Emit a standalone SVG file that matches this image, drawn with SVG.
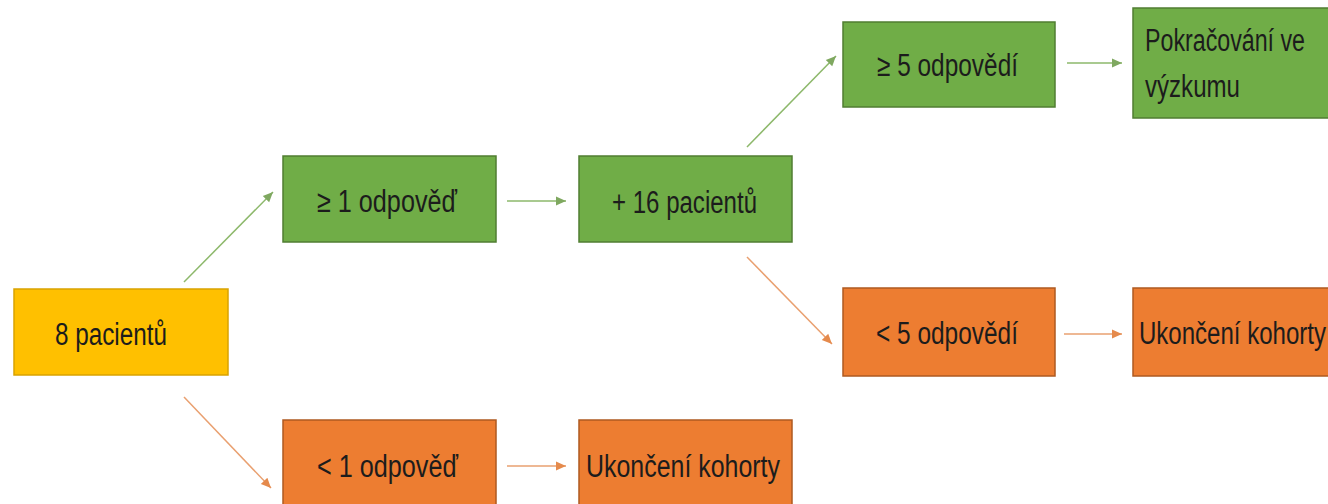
<svg xmlns="http://www.w3.org/2000/svg" width="1328" height="504" viewBox="0 0 1328 504">
<style>
.box{stroke-width:1.5}
.y{fill:#FFC000;stroke:#D9A300}
.g{fill:#70AD47;stroke:#507E32}
.o{fill:#ED7D31;stroke:#AE5A21}
.t{font-family:"Liberation Sans",Arial,sans-serif;font-size:31px;fill:#1c1c1c}
.cg{stroke:#8DB86B;stroke-width:1.5;fill:none;marker-end:url(#ag)}
.co{stroke:#E9A070;stroke-width:1.5;fill:none;marker-end:url(#ao)}
</style>
<defs>
<marker id="ag" markerUnits="userSpaceOnUse" markerWidth="11" markerHeight="11" refX="10" refY="5.5" orient="auto"><path d="M0,1 L10,5.5 L0,10 Z" fill="#7FA860"/></marker>
<marker id="ao" markerUnits="userSpaceOnUse" markerWidth="11" markerHeight="11" refX="10" refY="5.5" orient="auto"><path d="M0,1 L10,5.5 L0,10 Z" fill="#E58A4C"/></marker>
</defs>
<rect width="1328" height="504" fill="#ffffff"/>
<g id="connectors">
<line class="cg" x1="184" y1="282" x2="273" y2="192"/>
<line class="co" x1="184" y1="397" x2="271" y2="488"/>
<line class="cg" x1="507" y1="201" x2="566" y2="201"/>
<line class="co" x1="507" y1="466" x2="566" y2="466"/>
<line class="cg" x1="747" y1="147" x2="836" y2="56"/>
<line class="co" x1="747" y1="257" x2="832" y2="344"/>
<line class="cg" x1="1067" y1="63" x2="1122" y2="63"/>
<line class="co" x1="1064" y1="334" x2="1122" y2="334"/>
</g>
<g id="n8">
<rect class="box y" x="14" y="289" width="214" height="86"/>
<text class="t" x="55" y="345" textLength="112" lengthAdjust="spacingAndGlyphs">8 pacientů</text>
</g>
<g id="n1yes">
<rect class="box g" x="283" y="156" width="213" height="86"/>
<text class="t" x="317" y="212" textLength="140" lengthAdjust="spacingAndGlyphs">≥ 1 odpověď</text>
</g>
<g id="n16">
<rect class="box g" x="579" y="156" width="213" height="86"/>
<text class="t" x="612" y="213" textLength="145" lengthAdjust="spacingAndGlyphs">+ 16 pacientů</text>
</g>
<g id="n5yes">
<rect class="box g" x="843" y="22" width="212" height="85"/>
<text class="t" x="877" y="76" textLength="141" lengthAdjust="spacingAndGlyphs">≥ 5 odpovědí</text>
</g>
<g id="ncont">
<rect class="box g" x="1133" y="8" width="197" height="110"/>
<text class="t" x="1145" y="51" textLength="160" lengthAdjust="spacingAndGlyphs">Pokračování ve</text>
<text class="t" x="1145" y="97" textLength="95" lengthAdjust="spacingAndGlyphs">výzkumu</text>
</g>
<g id="n5no">
<rect class="box o" x="843" y="288" width="212" height="88"/>
<text class="t" x="876" y="344" textLength="142" lengthAdjust="spacingAndGlyphs">&lt; 5 odpovědí</text>
</g>
<g id="nend1">
<rect class="box o" x="1133" y="288" width="197" height="88"/>
<text class="t" x="1139" y="344" textLength="187" lengthAdjust="spacingAndGlyphs">Ukončení kohorty</text>
</g>
<g id="n1no">
<rect class="box o" x="283" y="420" width="213" height="90"/>
<text class="t" x="317" y="477" textLength="141" lengthAdjust="spacingAndGlyphs">&lt; 1 odpověď</text>
</g>
<g id="nend2">
<rect class="box o" x="579" y="420" width="213" height="90"/>
<text class="t" x="586" y="477" textLength="194" lengthAdjust="spacingAndGlyphs">Ukončení kohorty</text>
</g>
</svg>
